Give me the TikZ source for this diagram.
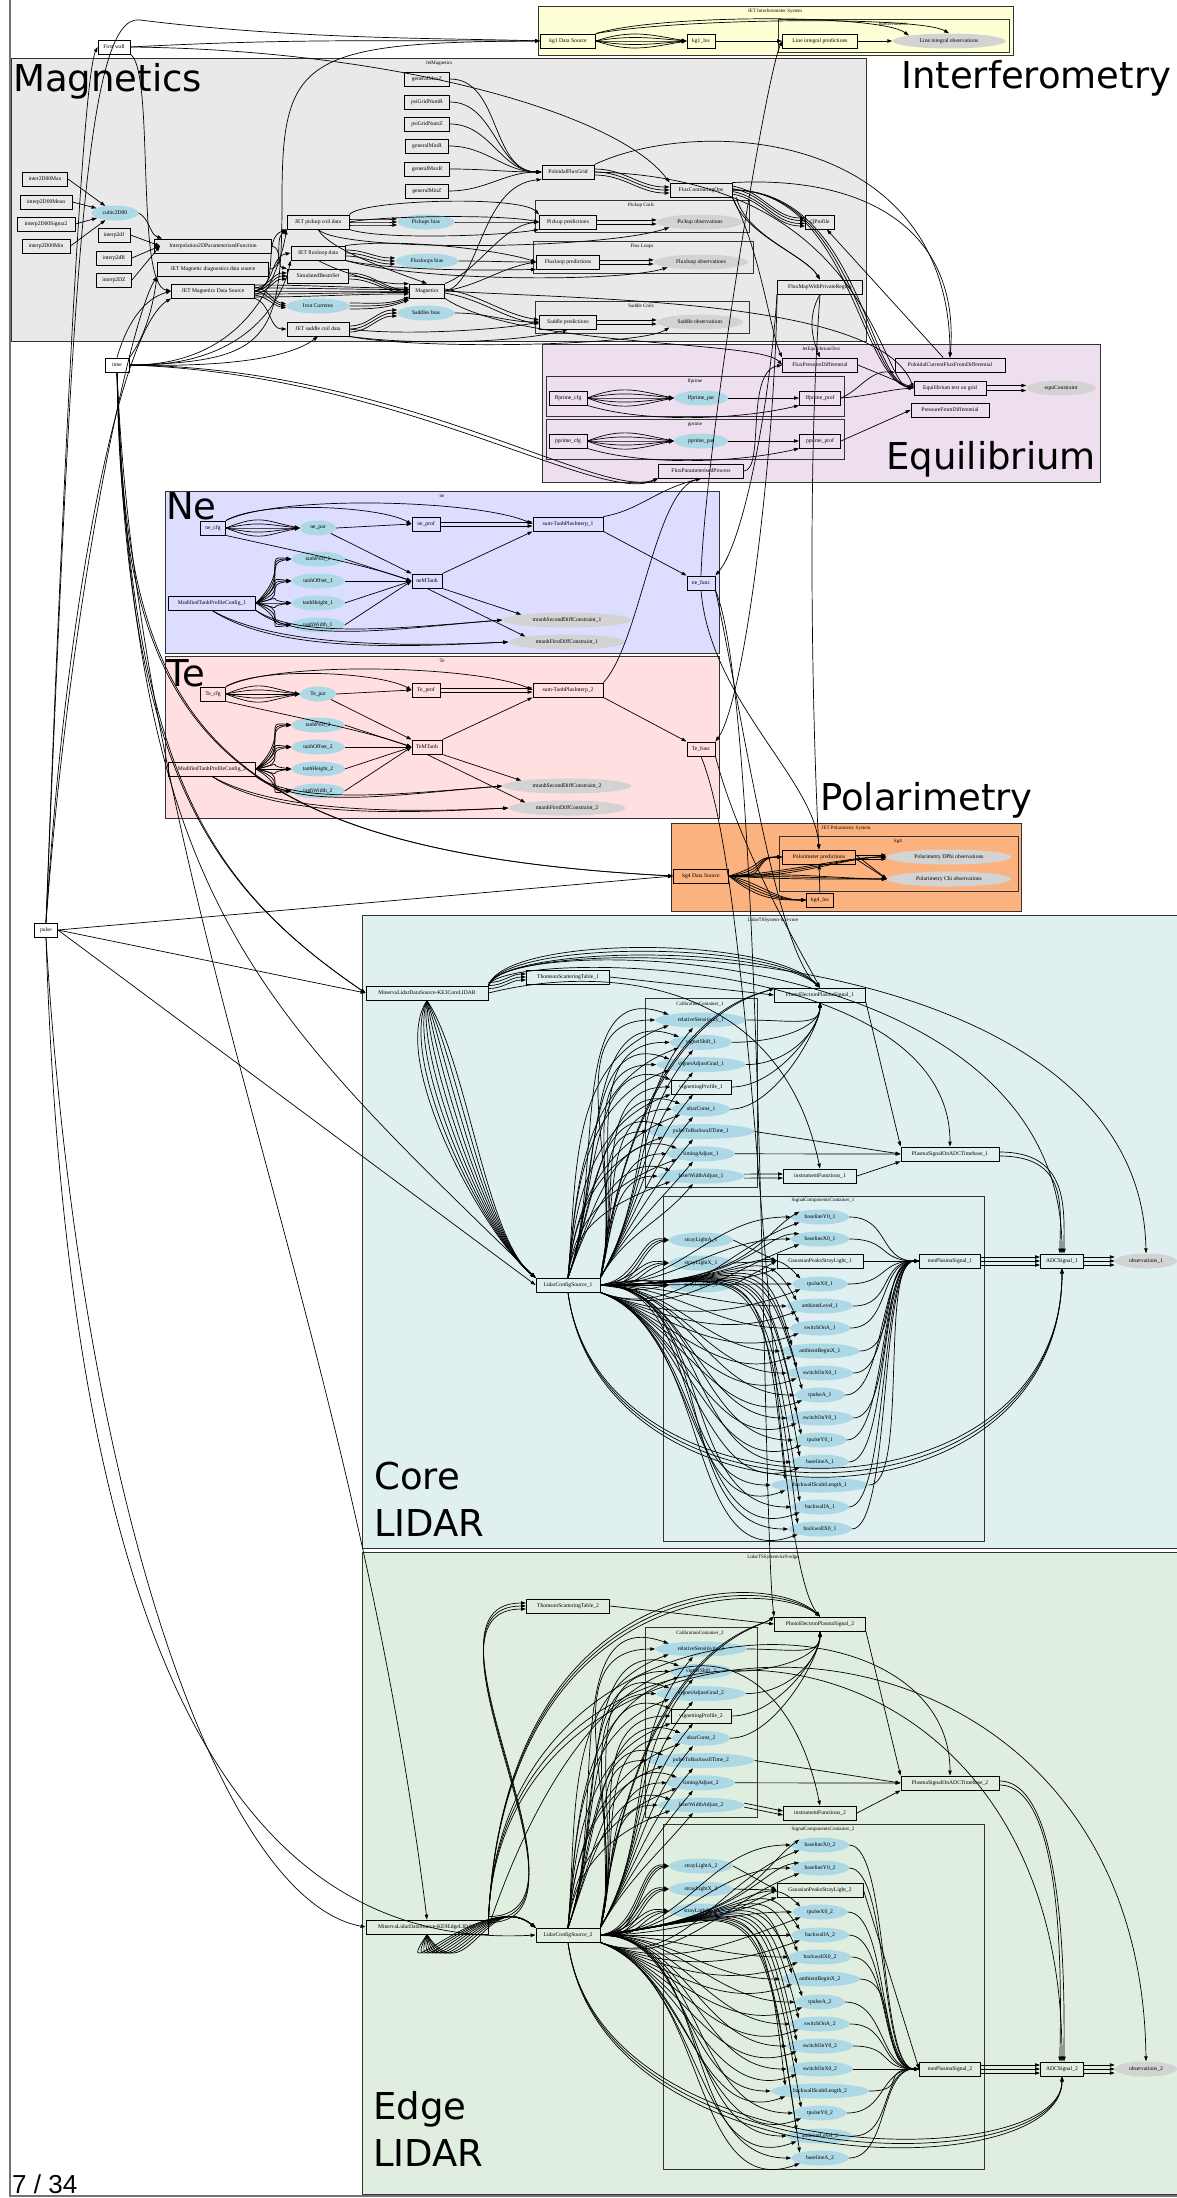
\documentclass[tikz,border=0pt]{standalone}
\usepackage{fontspec}
\usetikzlibrary{shapes.geometric,arrows.meta}
\newfontfamily\gvf{Liberation Serif}
\newfontfamily\bgf{DejaVu Sans}
\newfontfamily\pgnf{Liberation Sans}
\definecolor{magbg}{HTML}{E9E9E9}
\definecolor{ifbg}{HTML}{FFFFD6}
\definecolor{eqbg}{HTML}{EEDFEE}
\definecolor{nebg}{HTML}{DDDDFF}
\definecolor{tebg}{HTML}{FFDFDF}
\definecolor{polbg}{HTML}{FBB27F}
\definecolor{corebg}{HTML}{E0EFEF}
\definecolor{edgebg}{HTML}{E0EEE0}
\definecolor{lblue}{HTML}{ADD8E6}
\definecolor{lgrey}{HTML}{D3D3D3}
\tikzset{
  gvtext/.style={font=\gvf\fontsize{5.6}{6.5}\selectfont},
  bx/.style={gvtext, draw=black, line width=0.9pt, rectangle, inner sep=1pt, minimum height=14pt, minimum width=#1pt},
  bx/.default=20,
  prm/.style={gvtext, ellipse, fill=lblue, draw=none, inner sep=0pt, minimum height=15pt, minimum width=#1pt},
  prm/.default=50,
  obsv/.style={gvtext, ellipse, fill=lgrey, draw=none, inner sep=0pt, minimum height=15pt, minimum width=#1pt},
  obsv/.default=60,
  clu/.style={draw=black!80, line width=0.7pt},
  cll/.style={font=\gvf\fontsize{5}{6}\selectfont, inner sep=0pt},
  bigl/.style={font=\bgf\fontsize{37}{40}\selectfont, inner sep=0pt, anchor=base west},
  ar/.style={-{Triangle[length=5pt,width=3.4pt]}, line width=0.7pt},
}
\begin{document}
\begin{tikzpicture}[x=1pt,y=-1pt]
\useasboundingbox (0,0) rectangle (1177,2198);
\clip (0,0) rectangle (1177,2198);
\fill[white] (0,0) rectangle (1177,2198);
\draw[black!55, line width=1.2pt] (10,-5) -- (10,2196) -- (1185,2196);

% ---------------- clusters
\draw[clu, fill=ifbg] (538,6) rectangle (1013,55);
\draw[clu, fill=ifbg] (778,19) rectangle (1009,52);
\draw[clu, fill=magbg] (11,58) rectangle (866,341);
\draw[clu] (535,200) rectangle (749,232);
\draw[clu] (533,241) rectangle (753,273);
\draw[clu] (535,301) rectangle (749,333);
\draw[clu, fill=eqbg] (542,344) rectangle (1100,482);
\draw[clu] (546,376) rectangle (844,416);
\draw[clu] (546,419) rectangle (844,459);
\draw[clu, fill=nebg] (165,491) rectangle (719,653);
\draw[clu, fill=tebg] (165,656) rectangle (719,818);
\draw[clu, fill=polbg] (671,823) rectangle (1021,911);
\draw[clu] (779,836) rectangle (1018,891);
\draw[clu, fill=corebg] (362,915) rectangle (1184,1548);
\draw[clu] (645,998) rectangle (757,1187);
\draw[clu] (663,1196) rectangle (984,1541);
\draw[clu, fill=edgebg] (362,1552) rectangle (1184,2194);
\draw[clu] (645,1627) rectangle (757,1817);
\draw[clu] (663,1824) rectangle (984,2169);

\node[cll] (tIf) at (775,11) {JET Interferometer System};
\node[cll] (tIfi) at (893,24) {Interferometer};
\node[cll] (tMag) at (439,63) {JetMagnetics};
\node[cll] (tPc) at (641,205) {Pickup Coils};
\node[cll] (tFl) at (642,246) {Flux Loops};
\node[cll] (tSc) at (641,306) {Saddle Coils};
\node[cll] (tEq) at (821,349) {JetEquilibriumTest};
\node[cll] (tff) at (695,381) {ffprime};
\node[cll] (tpp) at (695,424) {pprime};
\node[cll] (tne) at (442,496) {ne};
\node[cll] (tTe) at (442,661) {Te};
\node[cll] (tPol) at (846,828) {JET Polarimetry System};
\node[cll] (tkg4) at (898,841) {kg4};
\node[cll] (tCore) at (773,920) {LidarTSSystem-kc3-core};
\node[cll] (tCal1) at (700,1004) {CalibrationContainer\_1};
\node[cll] (tSig1) at (823,1200) {SignalComponentsContainer\_1};
\node[cll] (tEdge) at (773,1557) {LidarTSSystem-kc9-edge};
\node[cll] (tCal2) at (700,1633) {CalibrationContainer\_2};
\node[cll] (tSig2) at (823,1829) {SignalComponentsContainer\_2};

\node[bigl] (bMag) at (13,91) {Magnetics};
\node[bigl] (bIf) at (901,88) {Interferometry};
\node[bigl] (bEq) at (886,469) {Equilibrium};
\node[bigl] (bNe) at (166,519) {Ne};
\node[bigl] (bTe) at (166,686) {Te};
\node[bigl] (bPol) at (820,810) {Polarimetry};
\node[bigl] (bCore) at (374,1489) {Core};
\node[bigl] (bCoreL) at (374,1536) {LIDAR};
\node[bigl] (bEdge) at (373,2119) {Edge};
\node[bigl] (bEdgeL) at (373,2166) {LIDAR};
\node[font=\pgnf\fontsize{26}{28}\selectfont, inner sep=0pt, anchor=base west] (pgno) at (12,2193) {7 / 34};

% ---------------- nodes: left
\node[bx=24] (time) at (117,365) {time};
\node[bx=23] (pulse) at (46,930) {pulse};

% ---------------- nodes: interferometer
\node[bx=55] (kg1ds) at (568,41) {kg1 Data Source};
\node[bx=28] (kg1los) at (701,41) {kg1\_los};
\node[bx=75] (lip) at (820,41) {Line integral predictions};
\node[obsv=113] (lio) at (949,41) {Line integral observations};

% ---------------- nodes: magnetics
\node[bx=32] (fwall) at (114,47) {First wall};
\node[bx=45] (gMaxZ) at (427,79) {generalMaxZ};
\node[bx=45] (pgNR) at (427,102) {psiGridNumR};
\node[bx=45] (pgNZ) at (427,124) {psiGridNumZ};
\node[bx=43] (gMinR) at (427,146) {generalMinR};
\node[bx=45] (gMaxR) at (427,169) {generalMaxR};
\node[bx=43] (gMinZ) at (427,191) {generalMinZ};
\node[bx=52] (pfg) at (568,172) {PoloidalFluxGrid};
\node[bx=45] (iMax) at (45,179) {inter2D00Max};
\node[bx=52] (iMean) at (46,202) {interp2D00Mean};
\node[bx=58] (iSig) at (46,224) {interp2D00Sigma2};
\node[bx=48] (iMin) at (46,246) {interp2D00Min};
\node[prm=47] (cubic) at (115,213) {cubic2D00};
\node[bx=32] (iJ) at (114,235) {interp2dJ};
\node[bx=35] (iR) at (114,258) {interp2dR};
\node[bx=35] (iZ) at (114,280) {interp2DZ};
\node[bx=117] (ipf) at (213,246) {Interpolation2DParameterisedFunction};
\node[bx=111] (jmdds) at (213,269) {JET Magnetic diagnostics data source};
\node[bx=83] (jmds) at (213,291) {JET Magnetics Data Source};
\node[bx=62] (jpcd) at (318,222) {JET pickup coil data};
\node[bx=54] (jfld) at (318,253) {JET fluxloop data};
\node[bx=61] (sbs) at (318,276) {SimulatedBeamSet};
\node[prm=63] (iron) at (318,306) {Iron Currents};
\node[bx=62] (jscd) at (318,329) {JET saddle coil data};
\node[prm=57] (pbias) at (426,222) {Pickups bias};
\node[prm=63] (fbias) at (427,261) {Fluxloops bias};
\node[bx=35] (mag) at (427,291) {Magnetics};
\node[prm=57] (sbias) at (426,313) {Saddles bias};
\node[bx=57] (ppred) at (568,222) {Pickup predictions};
\node[obsv=86] (pobs) at (700,222) {Pickup observations};
\node[bx=63] (fpred) at (568,262) {Fluxloop predictions};
\node[obsv=94] (fobs) at (701,262) {Fluxloop observations};
\node[bx=57] (spred) at (568,322) {Saddle predictions};
\node[obsv=86] (sobs) at (700,322) {Saddle observations};
\node[bx=62] (fco) at (701,190) {FluxContouringOps};
\node[bx=29] (qprof) at (820,222) {QProfile};
\node[bx=85] (fmpr) at (820,287) {FluxMapWithPrivateRegion};

% ---------------- nodes: equilibrium
\node[bx=75] (fpd) at (820,365) {FluxPressureDifferential};
\node[bx=110] (pcfd) at (950,365) {PoloidalCurrentFluxFromDifferential};
\node[bx=38] (ffcfg) at (568,398) {ffprime\_cfg};
\node[prm=54] (ffpar) at (701,398) {ffprime\_par};
\node[bx=41] (ffprof) at (820,398) {ffprime\_prof};
\node[bx=72] (eqt) at (950,388) {Equilibrium test on grid};
\node[obsv=69] (equi) at (1061,388) {equiConstraint};
\node[bx=78] (pfd) at (950,410) {PressureFromDifferential};
\node[bx=38] (ppcfg) at (568,441) {pprime\_cfg};
\node[prm=54] (pppar) at (701,441) {pprime\_par};
\node[bx=41] (ppprof) at (820,441) {pprime\_prof};
\node[bx=85] (fpp) at (701,471) {FluxParameterisedProcess};

% ---------------- nodes: ne / Te
\foreach \pp/\kk/\dy in {ne/1/0,Te/2/166}{
  \node[bx=25] (\pp cfg) at (213,{528+\dy}) {\pp\_cfg};
  \node[prm=36] (\pp par) at (318,{528+\dy}) {\pp\_par};
  \node[bx=28] (\pp prof) at (426,{524+\dy}) {\pp\_prof};
  \node[bx=70] (sum\kk) at (568,{524+\dy}) {sum-TanhPlusInterp\_\kk};
  \node[bx=28] (\pp func) at (701,{583+\dy}) {\pp\_func};
  \node[prm=53] (tPsi\kk) at (318,{559+\dy}) {tanhPsi0\_\kk};
  \node[prm=53] (tOff\kk) at (318,{581+\dy}) {tanhOffset\_\kk};
  \node[prm=53] (tHei\kk) at (318,{603+\dy}) {tanhHeight\_\kk};
  \node[prm=53] (tWid\kk) at (318,{625+\dy}) {tanhWidth\_\kk};
  \node[bx=87] (mtpc\kk) at (212,{603+\dy}) {ModifiedTanhProfileConfig\_\kk};
  \node[bx=30] (\pp MTanh) at (427,{581+\dy}) {\pp MTanh};
  \node[obsv=129] (msd\kk) at (567,{620+\dy}) {mtanhSecondDiffConstraint\_\kk};
  \node[obsv=117] (mfd\kk) at (567,{642+\dy}) {mtanhFirstDiffConstraint\_\kk};
}

% ---------------- nodes: polarimetry
\node[bx=55] (kg4ds) at (701,876) {kg4 Data Source};
\node[bx=73] (ppol) at (819,857) {Polarimeter predictions};
\node[obsv=125] (dphi) at (949,857) {Polarimetry DPhi observations};
\node[obsv=124] (chi) at (949,879) {Polarimetry Chi observations};
\node[bx=27] (kg4los) at (820,900) {kg4\_los};

% ---------------- nodes: LIDAR
\node[bx=122] (mds1) at (427,993) {MinervaLidarDataSource-KE3CoreLIDAR};
\node[bx=122] (mds2) at (427,1927) {MinervaLidarDataSource-KE9EdgeLIDAR};
\node[bx=64] (lcs1) at (568,1285) {LidarConfigSource\_1};
\node[bx=64] (lcs2) at (568,1935) {LidarConfigSource\_2};
\node[bx=73] (if1) at (820,1176) {instrumentFunctions\_1};
\node[bx=73] (if2) at (820,1813) {instrumentFunctions\_2};
\node[bx=86] (gps1) at (820,1261) {GaussianPeaksStrayLight\_1};
\node[bx=86] (gps2) at (820,1890) {GaussianPeaksStrayLight\_2};
\node[bx=61] (nps1) at (950,1261) {nonPlasmaSignal\_1};
\node[bx=61] (nps2) at (950,2069) {nonPlasmaSignal\_2};
\node[bx=43] (adc1) at (1062,1261) {ADCSignal\_1};
\node[bx=43] (adc2) at (1062,2069) {ADCSignal\_2};
\node[obsv=62] (obs1) at (1146,1261) {observations\_1};
\node[obsv=62] (obs2) at (1146,2069) {observations\_2};
\foreach \kk/\dy in {1/0,2/629}{
  \node[bx=83] (tst\kk) at (568,{977+\dy}) {ThomsonScatteringTable\_\kk};
  \node[bx=91] (pe\kk) at (820,{995+\dy}) {PhotoElectronPlasmaSignal\_\kk};
  \node[bx=98] (psadc\kk) at (950,{1154+\dy}) {PlasmaSignalOnADCTimebase\_\kk};
  \foreach \nm/\ii/\ww in {relativeSensitivity/0/91,vignetShift/1/62,vignetAdjustGrad/2/89,ubarConst/4/58,pulseToBackwallTime/5/107,timingAdjust/6/68,laserWidthAdjust/7/86}
    \node[prm=\ww] (\nm-\kk) at (701,{1020+\dy+22.3*\ii}) {\nm\_\kk};
  \node[bx=60] (vignettingProfile-\kk) at (701,{1087+\dy}) {vignettingProfile\_\kk};
}
\foreach \nm/\yy/\ww in {strayLightA/1240/64,strayLightX/1263/64,strayLightW/1285/64,baselineY0/1217/58,baselineX0/1239/58,tpulseX0/1284/55,ambientLevel/1306/66,switchOnA/1328/60,ambientBeginX/1351/79,switchOnX0/1373/66,tpulseA/1395/50,switchOnY0/1418/66,tpulseY0/1440/53,baselineA/1462/57,backwallScaleLength/1485/98,backwallA/1507/57,backwallX0/1529/63}
  \node[prm=\ww] (\nm-1) at ({\ww==64 ? 701 : 820},\yy) {\nm\_1};
\foreach \nm/\yy/\ww in {strayLightA/1866/64,strayLightX/1889/64,strayLightW/1911/64,baselineX0/1845/58,baselineY0/1868/58,tpulseX0/1912/55,backwallA/1935/57,backwallX0/1957/63,ambientBeginX/1979/79,tpulseA/2002/50,switchOnA/2024/60,switchOnY0/2046/66,switchOnX0/2069/66,backwallScaleLength/2091/98,tpulseY0/2113/53,ambientLevel/2136/66,baselineA/2158/57}
  \node[prm=\ww] (\nm-2) at ({\ww==64 ? 701 : 820},\yy) {\nm\_2};

% ================= EDGES =================
% left inputs
\draw[ar] (pulse.north) .. controls (62,500) and (82,80) .. (fwall.west);
\draw[ar] (pulse.north) .. controls (72,300) and (84,12) .. (140,20) .. controls (300,40) and (450,38) .. (kg1ds.west);
\draw[ar] (pulse.north) .. controls (66,600) and (120,330) .. (jmds.south west);
\draw[ar] (pulse.north) .. controls (70,600) and (130,320) .. (jmdds.south west);
\draw[ar] (pulse.east) -- (kg4ds.west);
\draw[ar] (pulse.east) -- (mds1.west);
\draw[ar] (pulse.east) -- (lcs1.west);
\draw[ar] (pulse.south) .. controls (80,1500) and (220,1900) .. (mds2.west);
\draw[ar] (pulse.south) .. controls (70,1700) and (260,1950) .. (lcs2.west);
\draw[ar] (time.north) .. controls (125,330) and (140,300) .. (jmds.west);
\draw[ar] (time.north east) .. controls (150,330) and (155,290) .. (jmdds.south west);
\draw[ar] (time.east) .. controls (270,362) and (282,340) .. (282,200) .. controls (282,60) and (300,42) .. (kg1ds.west);
\draw[ar] (time.east) .. controls (250,366) and (280,270) .. (jpcd.south west);
\draw[ar] (time.east) .. controls (255,368) and (285,290) .. (jfld.south west);
\draw[ar] (time.east) .. controls (260,368) and (300,350) .. (jscd.south);
\foreach \q in {0,6} \draw[ar] (time.east) .. controls (400,{368+\q}) and (600,{500+\q}) .. (fpp.south west);
\foreach \q in {0,4} \draw[ar] (time.south) .. controls ({122+\q},700) and (180,850) .. (kg4ds.west);
\foreach \q in {0,4} \draw[ar] (time.south) .. controls ({126+\q},760) and (200,880) .. (mds1.west);
\draw[ar] (time.south) .. controls (135,900) and (250,1000) .. (lcs1.north west);
\draw[ar] (time.south) .. controls (140,900) and (350,1300) .. (mds2.north);

% magnetics
\foreach \s in {iMax,iMean,iSig,iMin} \draw[ar] (\s.east) -- (cubic);
\draw[ar] (cubic.east) to[out=-30,in=160] ([xshift=8]ipf.north west);
\foreach \s in {iJ,iR,iZ} \draw[ar] (\s.east) -- ([xshift=6]ipf.west);
\draw[ar] (fwall.east) to[out=3,in=180] (kg1ds.west);
\draw[ar] (fwall.east) .. controls (400,50) and (620,115) .. (fco.north west);
\draw[ar] (fwall.south east) .. controls (155,70) and (135,285) .. (jmds.west);
\draw[ar] (jmds.east) to[out=10,in=200] (jpcd.south west);
\draw[ar] (jmds.east) to[out=15,in=190] (jfld.west);
\foreach \q in {-3,0,3} \draw[ar] ([yshift=\q]jmds.east) to[out=5,in=180] ([yshift=\q]sbs.west);
\foreach \q in {-4,0,4} \draw[ar] ([yshift=\q]jmds.east) to[out=-10,in=170] ([yshift=\q/2]iron.west);
\foreach \q in {-6,-3,0,3,6} \draw[ar] ([yshift=\q]jmds.east) to[out=0,in=180] ([yshift=\q/2]mag.west);
\draw[ar] (jmds.south east) to[out=-20,in=180] (jscd.west);
\draw[ar] (jmdds.east) to[out=0,in=220] (jpcd.south west);
\draw[ar] (ipf.east) to[out=-10,in=170] (sbs.north west);
\foreach \q in {-3,0,3} \draw[ar] ([yshift=\q]jpcd.east) to[out=0,in=180] ([yshift=\q]pbias.west);
\draw[ar] (jpcd.north east) .. controls (360,200) and (520,195) .. (ppred.north west);
\draw[ar] (jpcd.east) .. controls (380,216) and (500,214) .. (ppred.west);
\draw[ar] (jpcd.south east) .. controls (380,240) and (500,236) .. (ppred.south west);
\draw[ar] (jpcd.south) .. controls (340,252) and (600,250) .. (pobs.south west);
\draw[ar] (jpcd.south) .. controls (330,250) and (390,270) .. (mag.north);
\foreach \q in {-3,0,3} \draw[ar] ([yshift=\q]jfld.east) to[out=0,in=180] ([yshift=\q]fbias.west);
\draw[ar] (jfld.north east) .. controls (400,238) and (500,250) .. (fpred.west);
\draw[ar] (jfld.south east) .. controls (400,272) and (500,270) .. (fpred.south west);
\draw[ar] (jfld.south east) .. controls (420,282) and (620,282) .. (fobs.south west);
\draw[ar] (jfld.south) .. controls (340,272) and (380,285) .. (mag.north west);
\foreach \q in {-3,0,3} \draw[ar] ([yshift=\q]sbs.east) to[out=0,in=180] ([yshift=\q/2]mag.west);
\foreach \q in {-3,0,3} \draw[ar] ([yshift=\q]iron.east) to[out=0,in=200] ([yshift=\q/2]mag.south west);
\foreach \q in {-3,0,3} \draw[ar] ([yshift=\q]jscd.east) to[out=0,in=180] ([yshift=\q]sbias.west);
\draw[ar] (jscd.east) .. controls (400,336) and (500,330) .. (spred.west);
\draw[ar] (jscd.south east) .. controls (420,346) and (520,342) .. (spred.south);
\draw[ar] (jscd.south east) .. controls (420,350) and (640,346) .. (sobs.south west);
\draw[ar] (pbias.east) to[out=0,in=180] (ppred.west);
\draw[ar] (fbias.east) to[out=0,in=180] (fpred.west);
\draw[ar] (sbias.east) to[out=0,in=180] (spred.west);
\foreach \q in {-2,2} {
  \draw[ar] ([yshift=\q]ppred.east) -- ([yshift=\q]pobs.west);
  \draw[ar] ([yshift=\q]fpred.east) -- ([yshift=\q]fobs.west);
  \draw[ar] ([yshift=\q]spred.east) -- ([yshift=\q]sobs.west);
}
\foreach \s in {gMaxZ,pgNR,pgNZ,gMinR,gMaxR,gMinZ} \draw[ar] (\s.east) to[out=0,in=180] (pfg.west);
\draw[ar] (mag.east) .. controls (480,285) and (480,185) .. (pfg.south west);
\draw[ar] (mag.north east) .. controls (480,270) and (500,226) .. (ppred.west);
\draw[ar] (mag.east) to[out=10,in=190] (fpred.west);
\foreach \q in {-2,2} \draw[ar] ([yshift=\q]mag.east) to[out=-10,in=170] ([yshift=\q]spred.west);
\draw[ar] (mag.south east) .. controls (520,348) and (760,340) .. (fpd.west);
\foreach \q in {-3,0,3} \draw[ar] ([yshift=\q]pfg.east) to[out=0,in=180] ([yshift=\q]fco.west);
\draw[ar] (pfg.north east) .. controls (700,115) and (950,130) .. (pcfd.north);
\draw[ar] (pfg.east) .. controls (870,178) and (880,385) .. (eqt.west);
\foreach \q in {-4,-1.5,1.5,4} \draw[ar] ([yshift=\q]fco.east) to[out=-10,in=180] ([yshift=\q]qprof.west);
\foreach \q in {0,4} \draw[ar] ([xshift=\q]fco.south east) .. controls (745,235) and (805,255) .. (fmpr.north);
\foreach \q in {0,4,8} \draw[ar] (fco.east) .. controls ({850+\q},190) and ({860+\q},380) .. (eqt.west);
\draw[ar] (fco.north east) .. controls (880,175) and (960,240) .. (pcfd.north);
\draw[ar] (fco.south east) .. controls (760,250) and (770,330) .. (fpd.north west);
\draw[ar] (fmpr.south) .. controls (805,320) and (815,345) .. (fpd.north);
\draw[ar] (pcfd) -- (qprof);
\draw[ar] (mag.east) .. controls (600,300) and (880,300) .. (eqt.west);

% equilibrium
\foreach \a/\b/\c in {ffcfg/ffpar/ffprof,ppcfg/pppar/ppprof}{
  \foreach \q in {-14,-7,0,7,14} \draw[ar] (\a.east) .. controls +(35,\q) and +(-35,{\q/2}) .. (\b.west);
  \draw[ar] (\a.south east) .. controls +(60,18) and +(-60,14) .. (\c.south west);
  \draw[ar] (\b.east) -- (\c.west);
}
\draw[ar] (ffprof.east) .. controls (870,396) and (885,390) .. (eqt.west);
\draw[ar] (ffprof.east) .. controls (860,390) and (870,370) .. (pcfd.south west);
\draw[ar] (ppprof.east) -- (pfd.west);
\draw[ar] (fpd.east) -- (eqt.west);
\draw[ar] (fpp.east) .. controls (765,470) and (745,372) .. (fpd.west);
\foreach \q in {-2.5,2.5} \draw[ar] ([yshift=\q]eqt.east) -- ([yshift=\q]equi.west);

% interferometer
\foreach \q in {-12,-6,0,6,12} \draw[ar] (kg1ds.east) .. controls +(35,\q) and +(-35,{\q/2}) .. (kg1los.west);
\draw[ar] (kg1ds.north east) .. controls (660,14) and (880,14) .. (lio.north west);
\draw[ar] (kg1ds.north east) .. controls (680,18) and (920,16) .. (lio.north);
\draw[ar] (kg1los) -- (lip);
\draw[ar] (lip) -- (lio);

% ne / Te
\foreach \pp/\kk/\dy in {ne/1/0,Te/2/166}{
  \foreach \q in {-14,-7,0,7,14} \draw[ar] (\pp cfg.east) .. controls +(35,\q) and +(-35,{\q/2}) .. (\pp par.west);
  \draw[ar] (\pp cfg.north east) .. controls (260,{500+\dy}) and (380,{506+\dy}) .. (\pp prof.west);
  \draw[ar] (\pp cfg.north east) .. controls (280,{494+\dy}) and (480,{500+\dy}) .. (sum\kk.west);
  \draw[ar] (\pp cfg.south east) .. controls (300,{552+\dy}) and (370,{566+\dy}) .. (\pp MTanh.west);
  \draw[ar] (\pp par.east) -- (\pp prof.west);
  \draw[ar] (\pp par.south east) -- (\pp MTanh.north west);
  \foreach \q in {-2,2} \draw[ar] ([yshift=\q]\pp prof.east) -- ([yshift=\q]sum\kk.west);
  \foreach \tn/\dd in {tPsi/-44,tOff/-22,tHei/0,tWid/22}{
    \foreach \q in {-8,0,8} \draw[ar] (mtpc\kk.east) .. controls +(35,{\dd*0.6+\q}) and +(-30,{\q*0.5}) .. (\tn\kk.west);
    \draw[ar] (\tn\kk.east) -- (\pp MTanh.west);
  }
  \foreach \q in {-3,3}{
    \draw[ar] (mtpc\kk.south east) .. controls (300,{642+\dy+\q}) and (400,{628+\dy}) .. (msd\kk.west);
    \draw[ar] (mtpc\kk.south) .. controls (280,{652+\dy+\q}) and (420,{646+\dy}) .. (mfd\kk.west);
  }
  \draw[ar] (\pp MTanh.north east) -- (sum\kk.south west);
  \draw[ar] (\pp MTanh.south east) -- (msd\kk.north west);
  \draw[ar] (\pp MTanh.south) -- (mfd\kk.north west);
  \draw[ar] (sum\kk.south east) -- (\pp func.north west);
  \draw[ar] (sum\kk.north east) .. controls (640,{510+0.8*\dy}) and (655,490) .. (fpp.south);
}
\draw[ar] (fmpr.south west) .. controls (770,400) and (745,540) .. (nefunc.north east);
\draw[ar] (fmpr.south west) .. controls (775,450) and (745,700) .. (Tefunc.north east);
\draw[ar] (nefunc.north) .. controls (705,450) and (765,80) .. (lip.west);
\draw[ar] (fmpr.south) .. controls (805,500) and (815,780) .. (ppol.north);
\draw[ar] (nefunc.south) .. controls (710,700) and (815,780) .. (ppol.north);
\draw[ar] (nefunc.south east) .. controls (740,700) and (775,950) .. (pe1.north);
\draw[ar] (nefunc.south east) .. controls (763,700) and (762,1520) .. (pe2.north west);
\draw[ar] (Tefunc.south east) .. controls (740,850) and (800,950) .. (pe1.north);
\draw[ar] (Tefunc.south) .. controls (760,900) and (766,1550) .. (pe2.north);

% polarimetry
\foreach \q in {-12,-6,0,6} \draw[ar] (kg4ds.east) .. controls +(40,\q) and +(-30,0) .. (ppol.west);
\foreach \q in {6,12,18,24} \draw[ar] (kg4ds.east) .. controls +(30,\q) and +(-30,0) .. (kg4los.west);
\foreach \q in {-4,0,4} \draw[ar] (kg4ds.east) .. controls +(60,\q) and +(-40,0) .. (dphi.west);
\foreach \q in {-4,0,4} \draw[ar] (kg4ds.east) .. controls +(60,\q) and +(-40,0) .. (chi.west);
\draw[ar] (kg4los) -- (ppol);
\foreach \q in {-2,2} \draw[ar] ([yshift=\q]ppol.east) -- ([yshift=\q]dphi.west);
\foreach \q in {-2,2} \draw[ar] ([yshift=\q]ppol.east) -- (chi.west);

% LIDAR
\foreach \kk/\tp/\bt in {1/935/1542,2/1568/2186}{
  \foreach \q in {-3,0,3} \draw[ar] ([yshift=\q]mds\kk.north east) to[out=0,in=180] ([yshift=\q]tst\kk.west);
  \foreach \q in {0,5,10} \draw[ar] (mds\kk.north east) .. controls (505,{\tp+\q}) and (770,{\tp+\q}) .. (pe\kk.north);
  \draw[ar] (mds\kk.north east) .. controls (500,{\tp-5}) and (1140,{\tp-5}) .. (obs\kk.north);
  \draw[ar] (mds\kk.north east) .. controls (500,{\tp-2}) and (1062,{\tp}) .. (adc\kk.north);
  \draw[ar] (mds\kk.north east) .. controls (500,{\tp+15}) and (950,{\tp+15}) .. (psadc\kk.north);
  \draw[ar] (mds\kk.east) .. controls (600,{\tp+30}) and (780,{\tp+40}) .. (if\kk.north);
  \foreach \q in {-40,-30,-20,-10,0,10,20,30,40} \draw[ar] (mds\kk.south) .. controls +(\q,60) and +(-50,-40) .. (lcs\kk.north west);
  \foreach \nm in {relativeSensitivity,vignetShift,vignetAdjustGrad,vignettingProfile,ubarConst,pulseToBackwallTime,timingAdjust,laserWidthAdjust}{
    \draw[ar] (lcs\kk.north east) to[out=75,in=180] (\nm-\kk.west);
    \draw[ar] (lcs\kk.north) to[out=85,in=200] (\nm-\kk.south west);
    \draw[ar] (lcs\kk.north) to[out=70,in=160] (\nm-\kk.north west);
    \draw[ar] (lcs\kk.north east) to[out=60,in=230] ([xshift=-8]\nm-\kk.south);
  }
  \foreach \nm in {relativeSensitivity,vignetShift,vignetAdjustGrad,vignettingProfile,ubarConst}
    \draw[ar] (\nm-\kk.east) .. controls +(45,0) and +(0,25) .. (pe\kk.south);
  \draw[ar] (pulseToBackwallTime-\kk.east) -- (psadc\kk.west);
  \draw[ar] (timingAdjust-\kk.east) -- (psadc\kk.west);
  \foreach \q in {-2,2} \draw[ar] ([yshift=\q]laserWidthAdjust-\kk.east) -- ([yshift=\q]if\kk.west);
  \draw[ar] (if\kk.east) -- (psadc\kk.south west);
  \draw[ar] (pe\kk.south east) -- (psadc\kk.north west);
  \draw[ar] (tst\kk.east) -- (pe\kk.west);
  \foreach \q in {-2,2} \draw[ar] ([yshift=\q]psadc\kk.east) .. controls +(70,0) and +(0,-45) .. ([xshift=\q]adc\kk.north);
  \foreach \q in {-4,0,4} \draw[ar] ([yshift=\q]nps\kk.east) -- ([yshift=\q]adc\kk.west);
  \foreach \q in {-4,0,4} \draw[ar] ([yshift=\q]adc\kk.east) -- ([yshift=\q]obs\kk.west);
  \foreach \nm in {strayLightA,strayLightX,strayLightW}{
    \foreach \q in {-6,0,6} \draw[ar] (lcs\kk.east) .. controls +(40,\q) and +(-30,\q) .. (\nm-\kk.west);
    \draw[ar] (\nm-\kk.east) -- (gps\kk.west);
  }
  \draw[ar] (lcs\kk.east) to[out=10,in=200] (gps\kk.south west);
  \draw[ar] (gps\kk.east) -- (nps\kk.west);
  \foreach \nm in {baselineY0,baselineX0,tpulseX0,ambientLevel,switchOnA,ambientBeginX,switchOnX0,tpulseA,switchOnY0,tpulseY0,baselineA,backwallScaleLength,backwallA,backwallX0}{
    \draw[ar] (lcs\kk.east) to[out=0,in=180] (\nm-\kk.west);
    \draw[ar] (lcs\kk.south east) to[out=-20,in=200] (\nm-\kk.south west);
    \draw[ar] (lcs\kk.east) .. controls (750,{\tp+350}) and (760,{\tp+300}) .. (\nm-\kk.north west);
    \draw[ar] (\nm-\kk.east) .. controls +(40,0) and +(-40,0) .. (nps\kk.west);
  }
  \foreach \q in {0,6,12} \draw[ar] (lcs\kk.south) .. controls (600,{\bt-\q}) and (1062,{\bt-\q}) .. (adc\kk.south);
  \foreach \q in {0,6} \draw[ar] (lcs\kk.north east) .. controls (640,{\tp+70+\q}) and (760,{\tp+60}) .. (pe\kk.north west);
}
\end{tikzpicture}
\end{document}
